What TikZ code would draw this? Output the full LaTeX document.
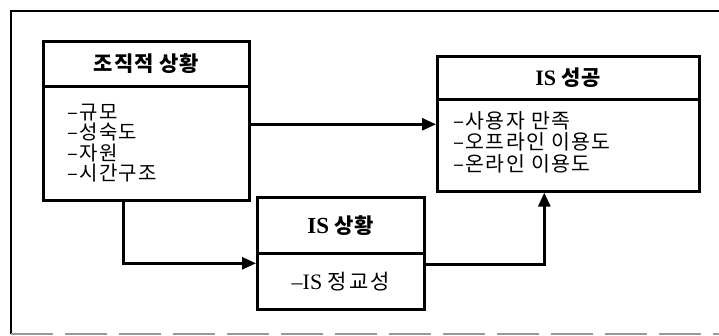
\documentclass[tikz,border=0pt]{standalone}
\usepackage{fontspec}
\setmainfont{Liberation Serif}
\newfontfamily\kr{Noto Sans CJK KR}
\usetikzlibrary{arrows.meta}
\tikzset{
  boxpart/.style={draw=black, line width=2.6pt, inner sep=0pt, anchor=north west},
  hdr/.style={boxpart, font=\fontsize{21pt}{23pt}\selectfont\bfseries},
  bodytxt/.style={boxpart, font=\fontsize{22pt}{24pt}\selectfont, align=left},
  listtxt/.style={anchor=north west, inner sep=0pt, align=left},
  conn/.style={line width=2.8pt, -{Triangle[length=14pt,width=12pt]}},
  frameline/.style={line width=1.3pt, black},
}
\begin{document}
\begin{tikzpicture}[x=1pt,y=-1pt]
\useasboundingbox (0,0) rectangle (719,336);
% outer frame
\draw[frameline] (11,334) -- (11,11) -- (719,11);
\draw[line width=1.3pt, black!40, dash pattern=on 42pt off 12pt] (11,334) -- (719,334);
% box 1
\node[hdr, minimum width=206pt, minimum height=45pt] (b1head) at (42,40)
  {\kr\addfontfeature{LetterSpace=4}조직적 상황};
\node[bodytxt, minimum width=206pt, minimum height=114pt] (b1body) at (42,85) {};
\node[listtxt, font=\fontsize{20pt}{20.3pt}\selectfont\kr\addfontfeature{LetterSpace=7}] (b1txt) at (67,104)
  {–규모\\–성숙도\\–자원\\–시간구조};
% IS success
\node[hdr, minimum width=262pt, minimum height=43pt] (shead) at (436,55)
  {\fontsize{22pt}{24pt}\selectfont IS {\kr\fontsize{21pt}{23pt}\selectfont\addfontfeature{LetterSpace=4}성공}};
\node[bodytxt, minimum width=262pt, minimum height=92pt] (sbody) at (436,98) {};
\node[listtxt, font=\fontsize{20.5pt}{21.5pt}\selectfont\kr\addfontfeature{LetterSpace=7}] (stxt) at (453,111)
  {–사용자 만족\\–오프라인 이용도\\–온라인 이용도};
% IS situation
\node[hdr, minimum width=167pt, minimum height=56pt] (hhead) at (256,196)
  {\fontsize{23pt}{25pt}\selectfont IS {\kr\fontsize{21pt}{23pt}\selectfont\addfontfeature{LetterSpace=4}상황}};
\node[bodytxt, minimum width=167pt, minimum height=56pt] (hbody) at (256,252)
  {–IS {\kr\fontsize{21pt}{23pt}\selectfont\addfontfeature{LetterSpace=10}정교성}};
% connectors
\draw[conn] ([yshift=19pt]b1body.east) -- ([yshift=19pt]b1body.east -| sbody.west);
\draw[conn] ([xshift=-23pt]b1body.south) |- ([yshift=18pt]hbody.west);
\draw[conn] ([yshift=17pt]hbody.east) -| ([xshift=-24pt]sbody.south);
\end{tikzpicture}
\end{document}
